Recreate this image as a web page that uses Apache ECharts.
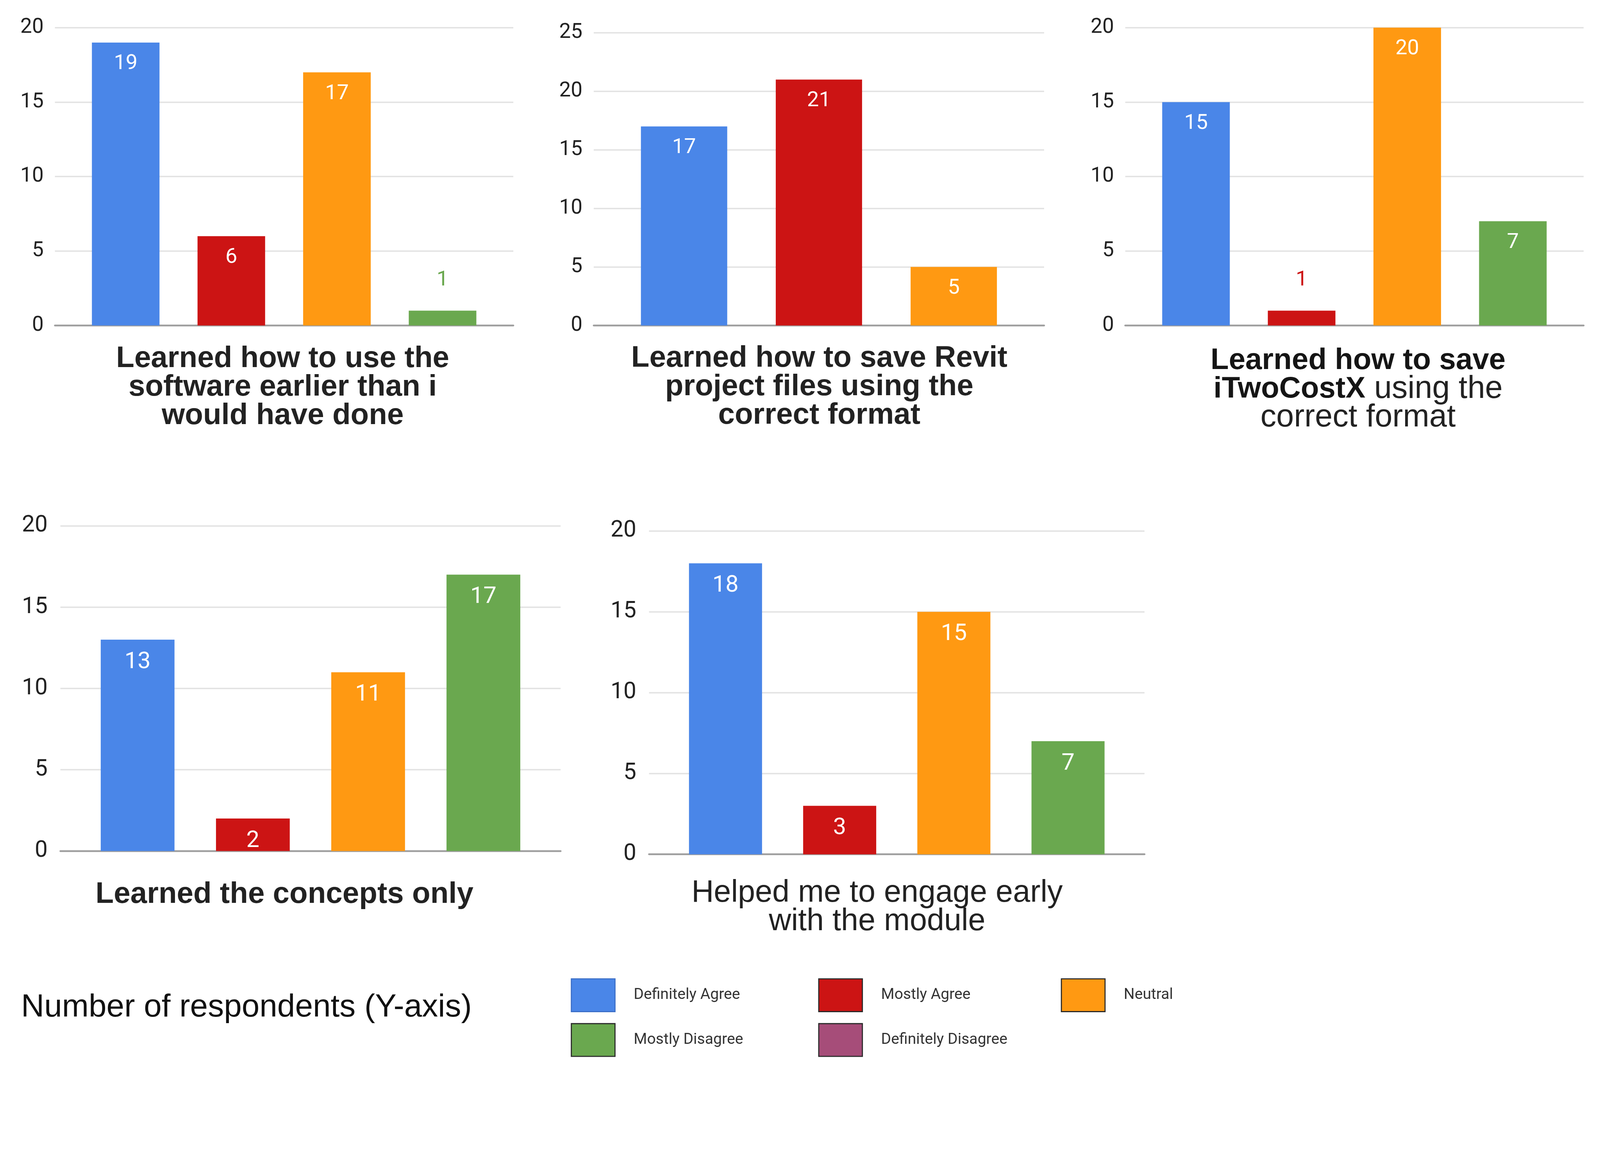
<!DOCTYPE html>
<html>
<head>
<meta charset="utf-8">
<title>Number of respondents</title>
<script src="https://cdn.jsdelivr.net/npm/echarts@6/dist/echarts.min.js"></script>
<style>
    html, body { margin: 0; padding: 0; background: #ffffff; overflow: hidden; }
    #chart { width: 100vw; height: 100vh; }
</style>
</head>
<body>
<div id="chart"></div>
<script>
// Response categories and their colours
const responses = ['Definitely Agree', 'Mostly Agree', 'Neutral', 'Mostly Disagree', 'Definitely Disagree'];
const responseColors = ['#4a86e8', '#cc1414', '#ff9912', '#6aa84f', '#a64d79'];

// Question titles (one per small chart)
const questionTitles = [
    'Learned how to use the\nsoftware earlier than i\nwould have done',
    'Learned how to save Revit\nproject files using the\ncorrect format',
    '{b|Learned how to save}\n{b|iTwoCostX} using the\ncorrect format',
    'Learned the concepts only',
    'Helped me to engage early\nwith the module'
];

// Counts per question, in the order of the responses above
const useSoftwareEarlier = [19, 6, 17, 1];
const saveRevitFiles = [17, 21, 5];
const saveITwoCostX = [15, 1, 20, 7];
const conceptsOnly = [13, 2, 11, 17];
const engageEarly = [18, 3, 15, 7];
const questionValues = [useSoftwareEarlier, saveRevitFiles, saveITwoCostX, conceptsOnly, engageEarly];

// Y axis ranges
const yMaxValues = [20, 25, 20, 20, 20];
const yInterval = 5;

const footerText = 'Number of respondents (Y-axis)';

// Layout is measured on a 4398 px wide picture, scaled to the real window
const s = (window.innerWidth || 4398) / 4398;
const px = v => v * s;

// Layout of each panel
const panels = [
    { left: 151,  right: 1411, top: 76,   bottom: 895,  titleX: 777,  titleY: 948,  titleSize: 82, titleWeight: 'bold',   axisSize: 57, labelSize: 58 },
    { left: 1632, right: 2870, top: 90,   bottom: 895,  titleX: 2252, titleY: 947,  titleSize: 82, titleWeight: 'bold',   axisSize: 57, labelSize: 58 },
    { left: 3093, right: 4353, top: 76,   bottom: 895,  titleX: 3733, titleY: 953,  titleSize: 87, titleWeight: 'normal', axisSize: 57, labelSize: 58 },
    { left: 166,  right: 1541, top: 1446, bottom: 2340, titleX: 782,  titleY: 2421, titleSize: 82, titleWeight: 'bold',   axisSize: 63, labelSize: 64 },
    { left: 1784, right: 3146, top: 1460, bottom: 2349, titleX: 2411, titleY: 2417, titleSize: 85, titleWeight: 'normal', axisSize: 63, labelSize: 64 }
];

const sidePad = 0.67;     // empty room left/right of the outer bars, in category units
const barRatio = 0.64;    // bar width relative to category spacing

const chart = echarts.init(document.getElementById('chart'), null, { renderer: 'canvas' });

const grids = [];
const xAxes = [];
const yAxes = [];
const titles = [];
const series = [];
const barWidths = [];

panels.forEach((p, idx) => {
    const values = questionValues[idx];
    const n = values.length;
    const width = p.right - p.left;
    const spacing = width / (n - 1 + 2 * sidePad);
    const barWidth = px(spacing * barRatio);
    barWidths.push(barWidth);

    grids.push({ left: px(p.left), top: px(p.top), width: px(width), height: px(p.bottom - p.top) });

    xAxes.push({
        type: 'value',
        gridIndex: idx,
        min: -sidePad,
        max: n - 1 + sidePad,
        axisLine: { show: true, onZero: false, lineStyle: { color: '#9e9e9e', width: px(5) } },
        axisTick: { show: false },
        axisLabel: { show: false },
        splitLine: { show: false }
    });

    yAxes.push({
        type: 'value',
        gridIndex: idx,
        min: 0,
        max: yMaxValues[idx],
        interval: yInterval,
        axisLine: { show: false },
        axisTick: { show: false },
        axisLabel: {
            color: '#222222',
            fontSize: px(p.axisSize),
            fontFamily: 'Roboto',
            margin: px(idx >= 3 ? 35 : 31)
        },
        splitLine: { show: true, lineStyle: { color: '#e2e2e2', width: px(4) } }
    });

    titles.push({
        text: questionTitles[idx],
        left: px(p.titleX),
        top: px(p.titleY),
        textAlign: 'center',
        padding: 0,
        textStyle: {
            color: '#222222',
            fontFamily: 'Liberation Sans',
            fontSize: px(p.titleSize),
            fontWeight: p.titleWeight,
            lineHeight: px(78),
            rich: {
                b: { fontFamily: 'Liberation Sans', fontSize: px(82), fontWeight: 'bold', color: '#151515', lineHeight: px(78) }
            }
        }
    });

    values.forEach((v, i) => {
        const inside = v >= 2;
        series.push({
            name: responses[i],
            type: 'bar',
            xAxisIndex: idx,
            yAxisIndex: idx,
            barWidth: barWidth,
            barGap: '-100%',
            data: [[i, v]],
            itemStyle: { color: responseColors[i] },
            label: {
                show: true,
                position: inside ? 'insideTop' : 'top',
                distance: px(inside ? 30 : 55),
                color: inside ? '#ffffff' : responseColors[i],
                fontFamily: 'Roboto',
                fontSize: px(p.labelSize),
                lineHeight: px(p.labelSize),
                formatter: params => String(params.value[1])
            },
            emphasis: { disabled: true },
            animation: false
        });
    });
});

// keep the unused response in the legend (no bar drawn)
series.push({
    name: responses[4],
    type: 'bar',
    xAxisIndex: 0,
    yAxisIndex: 0,
    barWidth: barWidths[0],
    barGap: '-100%',
    data: [],
    itemStyle: { color: responseColors[4] },
    animation: false
});

// footer note
titles.push({
    text: footerText,
    left: px(58),
    top: px(2726),
    padding: 0,
    textStyle: {
        color: '#111111',
        fontFamily: 'Liberation Sans',
        fontSize: px(88),
        fontWeight: 'normal',
        lineHeight: px(90)
    }
});

// legend entries: [left, top]
const legendSpots = [[1569, 2690], [2249, 2690], [2916, 2690], [1569, 2813], [2249, 2813]];
const legends = responses.map((name, i) => ({
    data: [name],
    left: px(legendSpots[i][0]),
    top: px(legendSpots[i][1]),
    padding: 0,
    icon: 'rect',
    itemWidth: px(120),
    itemHeight: px(90),
    selectedMode: false,
    itemStyle: {
        borderColor: i === 0 ? '#3c6fc8' : '#2a2a2a',
        borderWidth: px(3)
    },
    textStyle: {
        color: '#333333',
        fontFamily: 'Roboto',
        fontSize: px(42),
        padding: [0, 0, 0, px(46)]
    }
}));

chart.setOption({
    backgroundColor: '#ffffff',
    animation: false,
    title: titles,
    legend: legends,
    grid: grids,
    xAxis: xAxes,
    yAxis: yAxes,
    series: series
});

window.addEventListener('resize', () => chart.resize());
</script>
</body>
</html>
